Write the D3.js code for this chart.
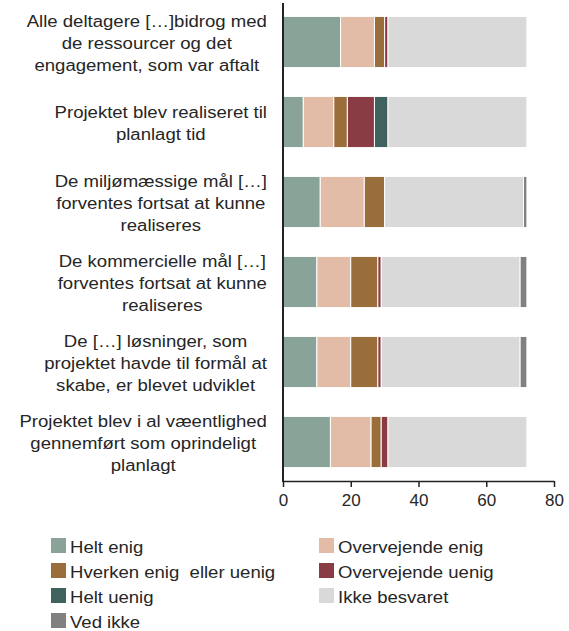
<!DOCTYPE html>
<html>
<head>
<meta charset="utf-8">
<script src="https://cdn.jsdelivr.net/npm/d3@7"></script>
<style>
  body { margin: 0; background: #fff; }
  text { font-family: "Liberation Sans", Arial, sans-serif; fill: #262626; }
</style>
</head>
<body>
<div id="chart"></div>
<script>
var w = 569;
var h = 631;

// questions, each split into its lines
var questions = [
  ["Alle deltagere […]bidrog med", "de ressourcer og det", "engagement, som var aftalt"],
  ["Projektet blev realiseret til", "planlagt tid"],
  ["De miljømæssige mål […]", "forventes fortsat at kunne", "realiseres"],
  ["De kommercielle mål […]", "forventes fortsat at kunne", "realiseres"],
  ["De […] løsninger, som", "projektet havde til formål at", "skabe, er blevet udviklet"],
  ["Projektet blev i al væentlighed", "gennemført som oprindeligt", "planlagt"]
];

var answers = ["Helt enig", "Overvejende enig", "Hverken enig  eller uenig", "Overvejende uenig",
               "Helt uenig", "Ikke besvaret", "Ved ikke"];
var colors = ["#8aa399", "#e2bca6", "#996e3a", "#8a3c45", "#40625e", "#d9d9d9", "#808080"];

// counts per answer, one array per answer (same order as questions)
var heltEnig        = [17, 6, 11, 10, 10, 14];
var overvejendeEnig = [10, 9, 13, 10, 10, 12];
var hverken         = [3, 4, 6, 8, 8, 3];
var overvejendeUenig= [1, 8, 0, 1, 1, 2];
var heltUenig       = [0, 4, 0, 0, 0, 0];
var ikkeBesvaret    = [41, 41, 41, 41, 41, 41];
var vedIkke         = [0, 0, 1, 2, 2, 0];

var xTicks = [0, 20, 40, 60, 80];

var series = [heltEnig, overvejendeEnig, hverken, overvejendeUenig, heltUenig, ikkeBesvaret, vedIkke];

var stretch = 1.16; // text in the reference is a bit wide

var svg = d3.select("#chart").append("svg")
  .attr("width", w).attr("height", h);

var x0 = 283, x1 = 554;
var x = d3.scaleLinear().domain([0, 80]).range([x0, x1]);
var y = d3.scaleBand().domain(d3.range(questions.length))
  .range([2, 482]).paddingInner(0.36).paddingOuter(0.18);

// stack the rows
var rows = questions.map(function(q, i) {
  var acc = 0, segs = [];
  series.forEach(function(s, k) {
    segs.push({row: i, k: k, a: acc, b: acc + s[i]});
    acc += s[i];
  });
  return segs;
});

var g = svg.append("g");
rows.forEach(function(segs) {
  g.selectAll(null)
    .data(segs.filter(function(d) { return d.b > d.a; }))
    .enter().append("rect")
    .attr("x", function(d) { return x(d.a); })
    .attr("y", function(d) { return y(d.row); })
    .attr("width", function(d) { return x(d.b) - x(d.a); })
    .attr("height", y.bandwidth())
    .attr("fill", function(d) { return colors[d.k]; })
    .attr("stroke", "#fff")
    .attr("stroke-width", 1);
});

// x axis
var xAxis = svg.append("g")
  .attr("transform", "translate(0,481)")
  .call(d3.axisBottom(x).tickValues(xTicks).tickSize(6).tickSizeOuter(0).tickPadding(7));
xAxis.select(".domain").attr("stroke", "#222").attr("stroke-width", 1.5);
xAxis.selectAll(".tick line").attr("stroke", "#222").attr("stroke-width", 1.5);
xAxis.selectAll(".tick text").style("font-size", "17px").attr("fill", "#262626")
  .style("font-family", "Liberation Sans, Arial, sans-serif");

// y axis line
svg.append("line")
  .attr("x1", x0).attr("x2", x0).attr("y1", 3).attr("y2", 482)
  .attr("stroke", "#222").attr("stroke-width", 2);

// question labels: lines centred, block right-aligned
var lineH = 22;
questions.forEach(function(lines, i) {
  var lg = svg.append("g");
  var t = lg.append("text").style("font-size", "16px").attr("text-anchor", "middle");
  var cy = y(i) + y.bandwidth() / 2;
  var top = cy - (lines.length - 1) * lineH / 2 + 7;
  lines.forEach(function(l, j) {
    t.append("tspan").attr("x", 0).attr("y", top + j * lineH).text(l);
  });
  var maxW = 0;
  t.selectAll("tspan").each(function() { maxW = Math.max(maxW, this.getComputedTextLength()); });
  lg.attr("transform", "translate(" + (267 - maxW * stretch / 2) + ",0) scale(" + stretch + ",1)");
});

// legend
var leg = svg.append("g");
answers.forEach(function(a, k) {
  var col = k % 2, row = Math.floor(k / 2);
  var lx = col === 0 ? 51 : 319;
  var ly = 553 + row * 25;
  leg.append("rect").attr("x", lx).attr("y", ly - 15).attr("width", 15).attr("height", 15)
    .attr("fill", colors[k]);
  leg.append("text")
    .attr("transform", "translate(" + (lx + 19) + "," + ly + ") scale(" + stretch + ",1)")
    .attr("xml:space", "preserve")
    .style("white-space", "pre")
    .style("font-size", "16px").text(a);
});
</script>
</body>
</html>
